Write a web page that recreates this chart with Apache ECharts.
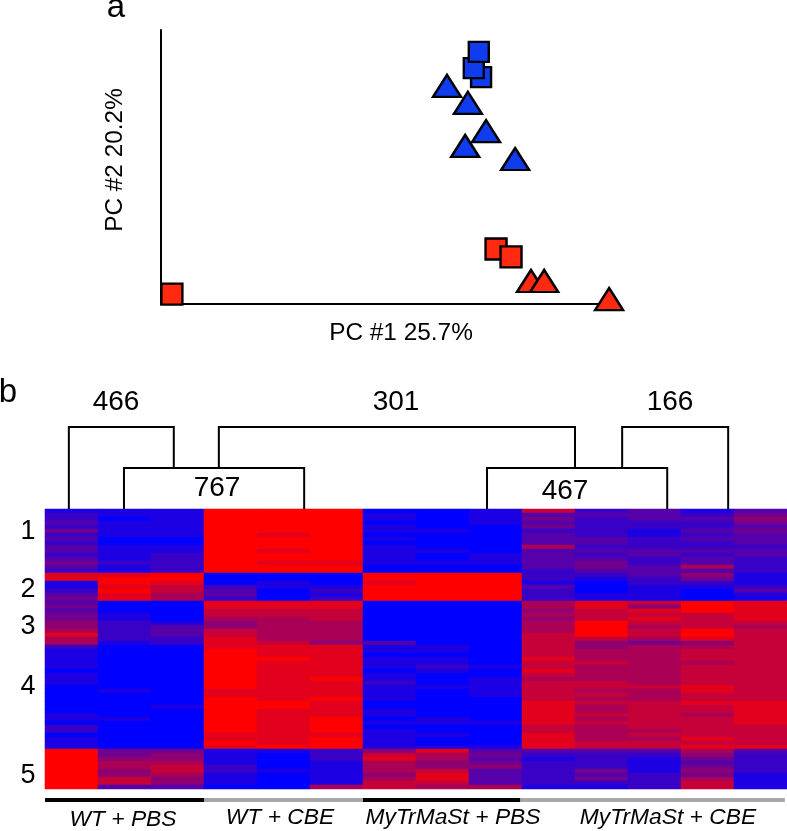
<!DOCTYPE html>
<html><head><meta charset="utf-8">
<style>html,body{margin:0;padding:0;background:#fff}#c{width:787px;height:831px}</style>
<script src="https://cdn.jsdelivr.net/npm/echarts@6/dist/echarts.min.js"></script>
</head><body><div id="c"></div>
<script>
// PCA panel (arbitrary PC units)
var blueSquares   = [[70.5,82.8],[68.9,86.1],[70.0,92.0]];
var blueTriangles = [[63.0,79.6],[67.6,73.4],[71.6,63.1],[67.0,57.7],[78.0,52.9]];
var redSquares    = [[2.4,3.6],[73.8,20.1],[77.1,17.2]];
var redTriangles  = [[81.5,8.4],[84.4,8.4],[98.7,1.8]];

// Heat map: one string per sample, one digit (0 blue .. 9 red) per row band; clusters split by |
var heatColumns = [
 "12232 42323 32343 2|8811234|34344 55686 6|21111 10111 00000 00110 22011 1|99999 99999",
 "11011 11001 11121 1|8998988|00011 22222 1|00000 00000 01000 00010 00000 0|44566 55773",
 "11111 11001 12222 2|9987766|00000 13332 2|00000 00000 00000 10000 00000 0|45567 76553",
 "99999 99999 99999 9|0002332|88776 55778 8|89999 99999 98899 99999 99889 8|11112 21110",
 "99999 98999 89989 9|0011000|88776 66666 7|88898 88888 88889 98888 88888 9|10000 10000",
 "99999 99999 99989 9|0001212|88777 66666 5|88888 88898 88898 88899 99899 9|22211 11116",
 "01101 10101 11110 0|9989999|00000 00000 3|11011 10112 11110 01101 01111 1|57866 65677",
 "00000 10000 10010 0|9999999|00000 00000 0|11011 21000 10000 00011 00100 1|86655 78876",
 "11110 00000 01110 0|9999999|00000 00000 0|00000 10011 11100 00001 00000 1|34345 33336",
 "73434 23336 33333 2|2213222|66565 66677 7|77787 78767 77778 88888 77888 8|32122 22221",
 "23222 22332 32344 3|2100011|88777 99997 5|56667 66667 76767 66767 66667 7|32222 43421",
 "33322 11222 33223 3|3221111|75878 76776 4|66666 66666 76667 77777 76767 7|32111 12222",
 "12322 32322 32336 3|5421000|99977 77998 5|67776 77777 88778 77677 77787 8|65434 54677",
 "34543 43332 33222 2|1112311|88888 76777 7|77777 77777 77778 88888 77777 8|32222 21111"
];
var clusterLabels = ["1","2","3","4","5"];
var sampleGroups  = ["WT + PBS","WT + CBE","MyTrMaSt + PBS","MyTrMaSt + CBE"];

// Dendrogram brackets, x in sample-column units, y in levels (0 heat map edge, 1 lower, 2 upper)
var bracket466 = [[0.45,0],[0.45,2],[2.43,2],[2.43,1]];
var bracket301 = [[3.28,1],[3.28,2],[10.0,2],[10.0,1]];
var bracket166 = [[10.89,1],[10.89,2],[12.89,2],[12.89,0]];
var bracket767 = [[1.49,0],[1.49,1],[4.89,1],[4.89,0]];
var bracket467 = [[8.34,0],[8.34,1],[11.74,1],[11.74,0]];
var bracketLabels = ["466","301","166","767","467"];

// Group bars under the heat map, column units
var blackGroups = [[[0,0],[3,0]],[[6,0],[8.97,0]]];
var greyGroups  = [[[3,0],[6,0]],[[8.97,0],[13.96,0]]];

var heat = [];
var nCols = heatColumns.length, rowIds = [], nRows = 0;
heatColumns.forEach(function(s,c){
  var d = s.replace(/[ |]/g,'');
  nRows = Math.max(nRows,d.length);
  for (var r=0;r<d.length;r++) heat.push([c,r,+d[r]]);
});
var colIds=[]; for (var i=0;i<nCols;i++) colIds.push(i);
for (var j=0;j<nRows;j++) rowIds.push(j);

function txt(t,x,y,size,extra){
  var st = {text:t,fill:'#000',font:(extra&&extra.font||'')+' '+size+'px "Liberation Sans"',align:'center',verticalAlign:'middle'};
  var g = {type:'text',x:x,y:y,style:st,silent:true};
  if (extra&&extra.rotation) g.rotation = extra.rotation;
  return g;
}
var graphics = [
  txt('a',116,8,33), txt('b',8,393,33),
  txt('PC #1 25.7%',401,333,24.4),
  txt('PC #2 20.2%',115,160,24.4,{rotation:Math.PI/2}),
  txt(bracketLabels[0],116,402,28), txt(bracketLabels[1],396,402,28), txt(bracketLabels[2],670,402,28),
  txt(bracketLabels[3],217,488,28), txt(bracketLabels[4],565,491,28),
  txt(clusterLabels[0],28,532,27), txt(clusterLabels[1],28,590,27), txt(clusterLabels[2],28,627,27),
  txt(clusterLabels[3],28,687,27), txt(clusterLabels[4],28,776,27),
  txt(sampleGroups[0],123,820,22.8,{font:'italic'}), txt(sampleGroups[1],280,818,22.8,{font:'italic'}),
  txt(sampleGroups[2],453,818,22.8,{font:'italic'}), txt(sampleGroups[3],668,818,22.8,{font:'italic'})
];

function pts(data,symbol,size,color){
  return {type:'scatter',xAxisIndex:0,yAxisIndex:0,data:data,symbol:symbol,symbolSize:size,clip:false,
    itemStyle:{color:color,borderColor:'#000',borderWidth:2.4,opacity:1},silent:true,animation:false};
}
function brk(data){
  return {type:'line',xAxisIndex:2,yAxisIndex:2,data:data,symbol:'none',clip:false,silent:true,animation:false,
    lineStyle:{color:'#000',width:2,join:'miter'}};
}
function bar(data,color){
  return {type:'line',xAxisIndex:3,yAxisIndex:3,data:data,symbol:'none',clip:false,silent:true,animation:false,
    lineStyle:{color:color,width:4,cap:'butt'}};
}
var hidden = {show:false};
var chart = echarts.init(document.getElementById('c'),null,{renderer:'canvas'});
chart.setOption({
  animation:false,
  backgroundColor:'#fff',
  graphic:graphics,
  grid:[
    {left:161,top:30,width:454,height:274},
    {left:45,top:509,width:742,height:280},
    {left:45,top:427,width:742,height:82},
    {left:45,top:799,width:742,height:1}
  ],
  xAxis:[
    {type:'value',gridIndex:0,min:0,max:100,axisLine:{show:true,onZero:false,lineStyle:{color:'#000',width:2}},axisTick:hidden,axisLabel:hidden,splitLine:hidden},
    {type:'category',gridIndex:1,data:colIds,show:false},
    {type:'value',gridIndex:2,min:0,max:14,show:false,splitLine:hidden},
    {type:'value',gridIndex:3,min:0,max:14,show:false,splitLine:hidden}
  ],
  yAxis:[
    {type:'value',gridIndex:0,min:0,max:100,axisLine:{show:true,onZero:false,lineStyle:{color:'#000',width:2}},axisTick:hidden,axisLabel:hidden,splitLine:hidden},
    {type:'category',gridIndex:1,data:rowIds,inverse:true,show:false},
    {type:'value',gridIndex:2,min:0,max:2,show:false,splitLine:hidden},
    {type:'value',gridIndex:3,min:0,max:1,show:false,splitLine:hidden}
  ],
  visualMap:{show:false,type:'continuous',seriesIndex:0,min:0,max:9,dimension:2,inRange:{color:['#0000ff','#ff0000']}},
  series:[
    {type:'heatmap',xAxisIndex:1,yAxisIndex:1,data:heat,progressive:0,silent:true,animation:false,itemStyle:{borderWidth:0}},
    brk(bracket466),brk(bracket301),brk(bracket166),brk(bracket767),brk(bracket467),
    bar(blackGroups[0],'#000'),bar(blackGroups[1],'#000'),bar(greyGroups[0],'#aaa7a7'),bar(greyGroups[1],'#aaa7a7'),
    pts(redSquares,'rect',21,'#ff2a0f'),
    pts(redTriangles,'triangle',[28,22],'#ff2a0f'),
    pts(blueTriangles,'triangle',[28,22],'#0e3cee'),
    pts(blueSquares,'rect',20,'#0e3cee')
  ]
});
</script></body></html>
